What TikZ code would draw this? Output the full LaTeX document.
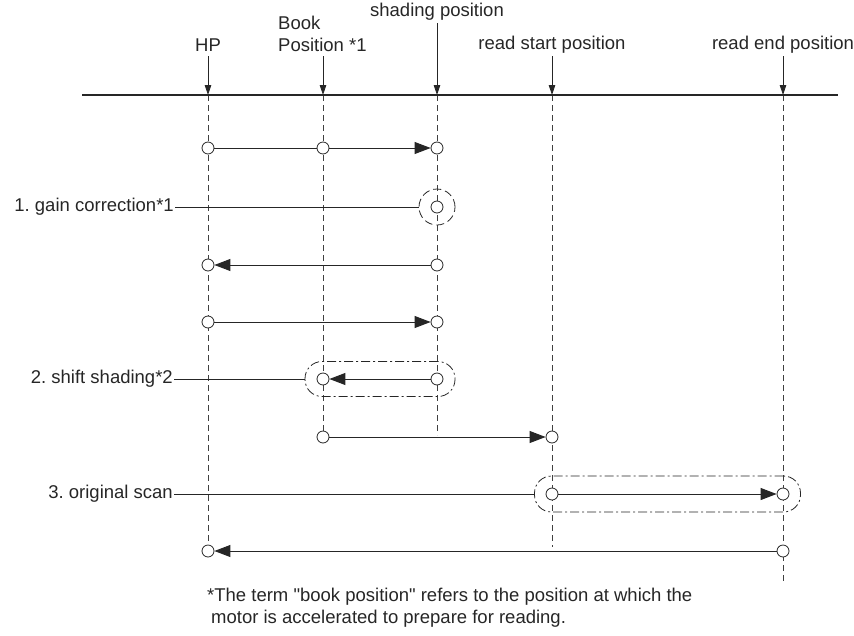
\documentclass[tikz,border=0pt]{standalone}
\usepackage{fontspec}
\setmainfont{Liberation Sans}
\usetikzlibrary{arrows.meta}
\begin{document}
\frenchspacing
\begin{tikzpicture}[x=1pt,y=-1pt,
  every node/.style={font=\fontsize{18.5}{22}\selectfont, text=black!85},
  axis/.style={line width=1.1pt, black!85},
  guide/.style={black!75, line width=0.7pt, dash pattern=on 6pt off 4pt},
  pin/.style={black!85, line width=0.8pt, -{Triangle[length=10pt,width=6.5pt]}},
  pt/.style={circle, draw=black!85, fill=white, line width=0.8pt, minimum size=12pt, inner sep=0pt},
  move/.style={black!85, line width=0.9pt},
  movearrow/.style={move, -{Triangle[length=16pt,width=12pt]}},
  ring/.style={circle, draw=black!85, line width=0.8pt, dash pattern=on 8pt off 4pt, minimum size=36pt, inner sep=0pt},
  group/.style={draw=black!85, line width=0.8pt, rounded corners=17pt, dash pattern=on 9pt off 3pt on 2pt off 3pt, inner sep=0pt},
  lbl/.style={anchor=east, inner sep=1pt},
  lead/.style={black!85, line width=0.8pt}]
\useasboundingbox (0,0) rectangle (854,635);

% position labels and pointers
\node (hpL) at (208,45) {HP};
\node[align=left, anchor=west, inner sep=0pt] (bookL) at (278,34) {Book\\Position *1};
\node (shL) at (437,12) {shading position};
\node (rsL) at (552,45) {read start position};
\node (reL) at (783,45) {read end position};

\coordinate (hpT) at (208,56);  \coordinate (hpA) at (208,95);
\coordinate (bkT) at (323,56);  \coordinate (bkA) at (323,95);
\coordinate (shT) at (437,23);  \coordinate (shA) at (437,95);
\coordinate (rsT) at (552,56);  \coordinate (rsA) at (552,95);
\coordinate (reT) at (783,56);  \coordinate (reA) at (783,95);

% position guides
\coordinate (hpB) at (208,556);
\coordinate (bkB) at (323,437);
\coordinate (shB) at (437,435);
\coordinate (rsB) at (552,547);
\coordinate (reB) at (783,582);
\draw[guide] (hpA) -- (hpB);
\draw[guide] (bkA) -- (bkB);
\draw[guide] (shA) -- (shB);
\draw[guide] (rsA) -- (rsB);
\draw[guide] (reA) -- (reB);

% carriage axis
\coordinate (axL) at (82,95);
\coordinate (axR) at (838,95);
\draw[axis] (axL) -- (axR);
\foreach \p in {hp,bk,sh,rs,re} \draw[pin] (\p T) -- (\p A);

% row 1: HP -> book position -> shading position
\node[pt] (a1) at (208,148) {};
\node[pt] (a2) at (323,148) {};
\node[pt] (a3) at (437,148) {};
\draw[move] (a1) -- (a2);
\draw[movearrow] (a2) -- (a3);

% row 2: gain correction
\node[pt] (b1) at (437,207) {};
\node[ring] (bR) at (437,207) {};
\node[lbl] (bL) at (175,207) {1. gain correction*1};
\draw[lead] (bL.east) -- (bR.west);

% row 3: back to HP
\node[pt] (c1) at (437,265) {};
\node[pt] (c2) at (208,265) {};
\draw[movearrow] (c1) -- (c2);

% row 4: HP -> shading position
\node[pt] (d1) at (208,322) {};
\node[pt] (d2) at (437,322) {};
\draw[movearrow] (d1) -- (d2);

% row 5: shift shading
\node[pt] (e1) at (437,379) {};
\node[pt] (e2) at (323,379) {};
\draw[movearrow] (e1) -- (e2);
\node[group, minimum width=150pt, minimum height=35pt] (eG) at (380,379) {};
\node[lbl] (eL) at (174,379) {2. shift shading*2};
\draw[lead] (eL.east) -- (eG.west);

% row 6: book position -> read start position
\node[pt] (f1) at (323,437) {};
\node[pt] (f2) at (552,437) {};
\draw[movearrow] (f1) -- (f2);

% row 7: original scan
\node[pt] (g1) at (552,494) {};
\node[pt] (g2) at (783,494) {};
\draw[movearrow] (g1) -- (g2);
\node[group, minimum width=266pt, minimum height=36pt] (gG) at (667.5,494) {};
\node[lbl] (gL) at (174,494) {3. original scan};
\draw[lead] (gL.east) -- (gG.west);

% row 8: return to HP
\node[pt] (h1) at (783,551) {};
\node[pt] (h2) at (208,551) {};
\draw[movearrow] (h1) -- (h2);

% footnote
\node[anchor=north west, align=left, inner sep=0pt] (note) at (207,588)
  {*The term \textquotedbl book position\textquotedbl{} refers to the position at which the\\
   \hspace*{4pt}motor is accelerated to prepare for reading.};
\end{tikzpicture}
\end{document}
